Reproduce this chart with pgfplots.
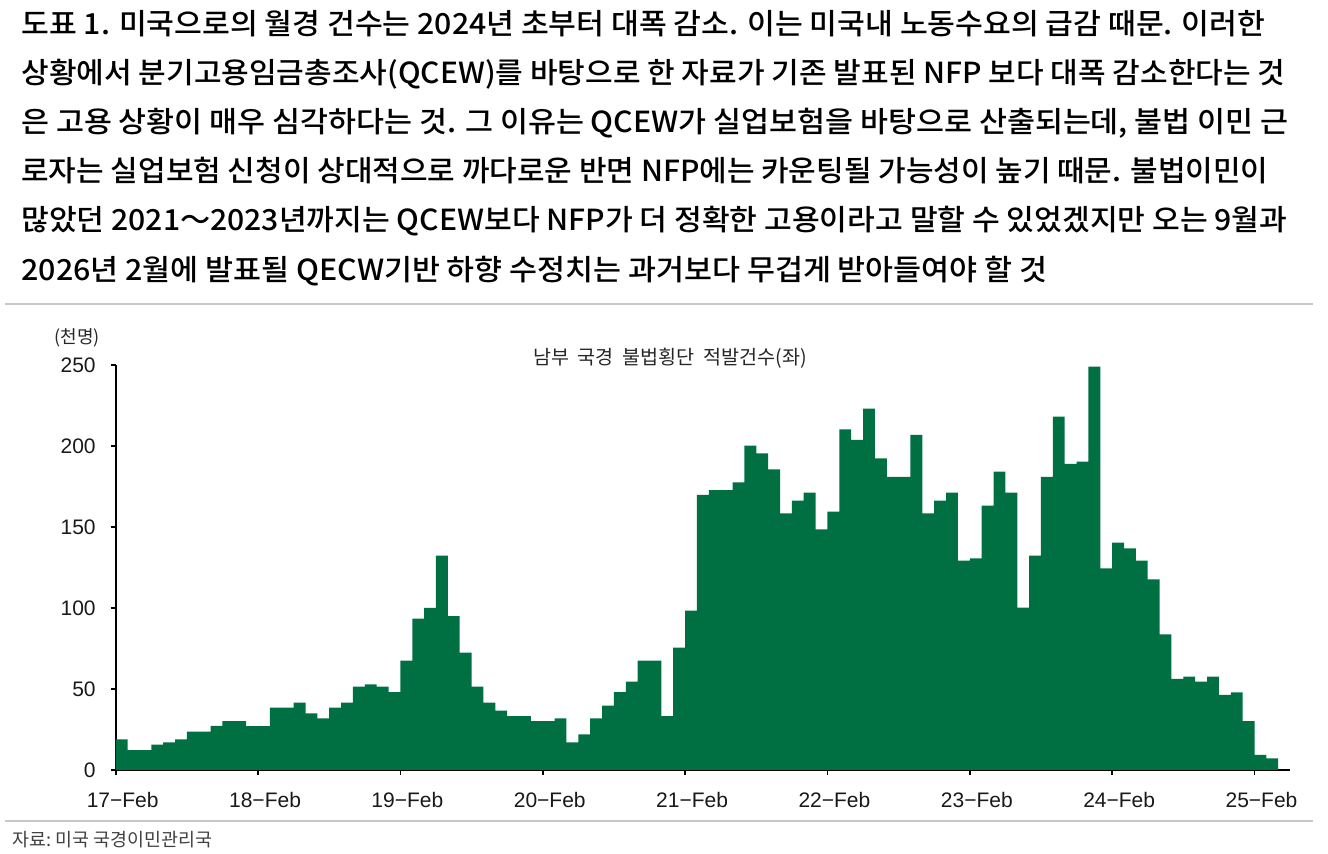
\documentclass[border=0pt]{standalone}
\usepackage{fontspec}
\usepackage{graphicx}
\usepackage{pgfplots}
\pgfplotsset{compat=1.18}
\setmainfont{Liberation Sans}
\newfontfamily\kr{Noto Sans CJK KR}
\newfontfamily\krm{Noto Sans CJK KR Medium}
\definecolor{barg}{RGB}{0,112,67}
\definecolor{rulegray}{RGB}{200,200,200}
\newlength\fitw
\newcommand\fitline[2]{\settowidth{\fitw}{#2}\pgfmathsetmacro\fitsc{#1/\fitw}\scalebox{\fitsc}[1]{#2}}
\newcommand\tf{\krm\fontsize{14.5pt}{16pt}\selectfont}
\begin{document}
\begin{tikzpicture}
\useasboundingbox (0,0) rectangle (664pt,427pt);
% title lines
\node[anchor=base west, inner sep=0] at (10.5pt,409.5pt) {\fitline{622pt}{\tf 도표 1. 미국으로의 월경 건수는 2024년 초부터 대폭 감소. 이는 미국내 노동수요의 급감 때문. 이러한}};
\node[anchor=base west, inner sep=0] at (10.5pt,385pt) {\fitline{632pt}{\tf 상황에서 분기고용임금총조사(QCEW)를 바탕으로 한 자료가 기존 발표된 NFP 보다 대폭 감소한다는 것}};
\node[anchor=base west, inner sep=0] at (10.5pt,360.5pt) {\fitline{633.5pt}{\tf 은 고용 상황이 매우 심각하다는 것. 그 이유는 QCEW가 실업보험을 바탕으로 산출되는데, 불법 이민 근}};
\node[anchor=base west, inner sep=0] at (10.5pt,336pt) {\fitline{623.5pt}{\tf 로자는 실업보험 신청이 상대적으로 까다로운 반면 NFP에는 카운팅될 가능성이 높기 때문. 불법이민이}};
\node[anchor=base west, inner sep=0] at (10.5pt,311.5pt) {\fitline{633pt}{\tf 많았던 2021～2023년까지는 QCEW보다 NFP가 더 정확한 고용이라고 말할 수 있었겠지만 오는 9월과}};
\node[anchor=base west, inner sep=0] at (10.5pt,286.5pt) {\fitline{513pt}{\tf 2026년 2월에 발표될 QECW기반 하향 수정치는 과거보다 무겁게 받아들여야 할 것}};
% rules
\draw[rulegray, line width=1.4pt] (2.5pt,275pt) -- (656.5pt,275pt);
\draw[rulegray, line width=1.2pt] (2.5pt,16.5pt) -- (656.5pt,16.5pt);
% source and unit
\node[anchor=west, inner sep=0, text=black!75] at (6pt,7pt) {\kr\fontsize{9.2pt}{10pt}\selectfont 자료:\ 미국 국경이민관리국};
\node[inner sep=0, text=black!85] at (38.5pt,258pt) {\kr\fontsize{9pt}{10pt}\selectfont (천명)};
\node[inner sep=0, text=black!85] at (335pt,248pt) {\kr\fontsize{9.8pt}{11pt}\selectfont 남부\ \ 국경\ \ 불법횡단\ \ 적발건수(좌)};
\begin{axis}[
  at={(57.85pt,42pt)}, anchor=south west,
  scale only axis, width=587.2pt, height=202.5pt,
  xmin=0, xmax=99, ymin=0, ymax=250,
  axis x line*=bottom, axis y line*=left,
  axis line style={-, line width=0.9pt, black},
  tick align=outside, major tick length=2.5pt,
  tick style={line width=0.9pt, black},
  xtick={0,12,24,36,48,60,72,84,96},
  xticklabels={17−Feb,18−Feb,19−Feb,20−Feb,21−Feb,22−Feb,23−Feb,24−Feb,25−Feb},
  ytick={0,50,100,150,200,250},
  /pgf/number format/assume math mode=true,
  tick label style={font=\fontsize{10.5pt}{12pt}\selectfont, text=black!90},
  xticklabel style={xshift=3.5pt, yshift=-5pt},
  yticklabel style={xshift=-4pt},
  clip=false,
]
\addplot[fill=barg, draw=none, const plot mark left] table {
x y
0 18.9
1 12.3
2 12.3
3 15.6
4 17.1
5 18.9
6 23.7
7 23.7
8 27.2
9 30.2
10 30.2
11 27.0
12 27.0
13 38.5
14 38.5
15 41.6
16 35.0
17 31.9
18 38.5
19 41.6
20 51.4
21 52.9
22 51.4
23 48.0
24 67.5
25 93.4
26 100.0
27 132.3
28 95.0
29 72.4
30 51.4
31 41.6
32 36.6
33 33.3
34 33.3
35 30.2
36 30.2
37 31.9
38 17.1
39 22.0
40 31.9
41 39.7
42 48.0
43 54.5
44 67.5
45 67.5
46 33.3
47 75.5
48 98.4
49 169.8
50 172.8
51 172.8
52 177.6
53 200.2
54 195.5
55 185.6
56 158.4
57 166.3
58 171.2
59 148.6
60 159.5
61 210.3
62 203.7
63 223.0
64 192.4
65 181.0
66 181.0
67 206.8
68 158.4
69 166.3
70 171.2
71 129.2
72 130.7
73 163.2
74 184.2
75 171.2
76 100.2
77 132.3
78 181.0
79 218.1
80 188.9
81 190.3
82 249.0
83 124.5
84 140.3
85 136.8
86 129.2
87 117.7
88 83.7
89 56.2
90 57.6
91 54.5
92 57.6
93 46.3
94 47.9
95 30.2
96 9.3
97 7.2
98 7.2
} \closedcycle;
\end{axis}
\end{tikzpicture}
\end{document}
